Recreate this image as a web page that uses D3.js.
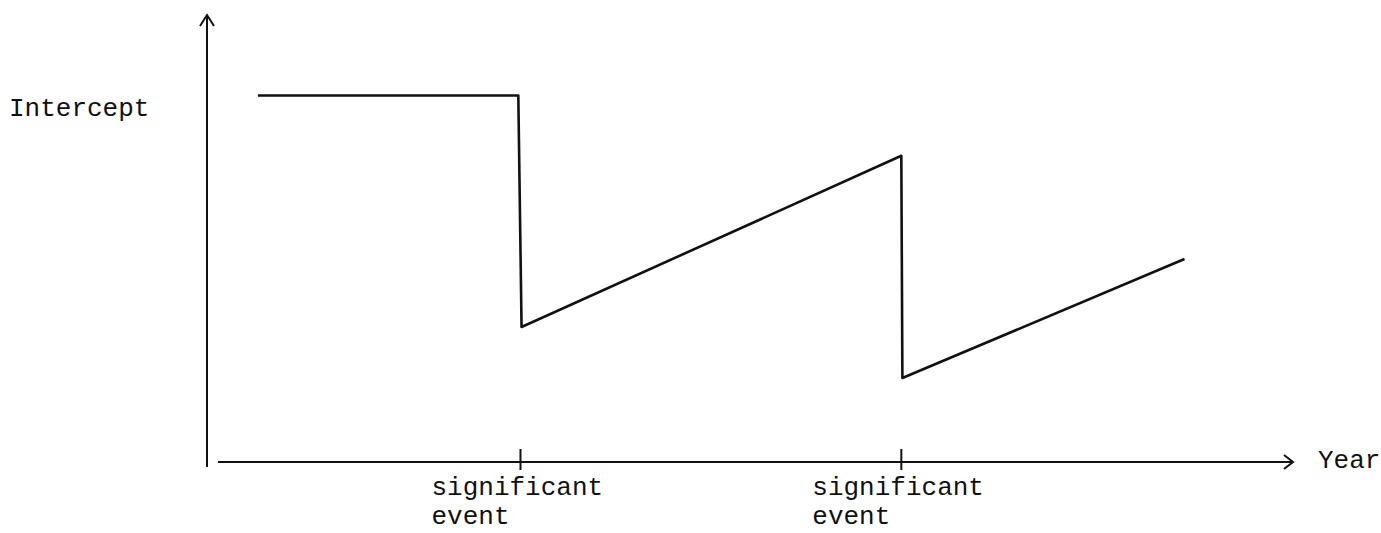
<!DOCTYPE html>
<html>
<head>
<meta charset="utf-8">
<script src="https://cdn.jsdelivr.net/npm/d3@7"></script>
<style>
  html, body { margin: 0; padding: 0; background: #fff; }
  svg { display: block; }
  text { font-family: "Liberation Mono", "Courier New", monospace; fill: #111; }
</style>
</head>
<body>
<svg id="chart" width="1381" height="533"></svg>
<script>
// Intercept over time, with drops at two significant events
const years = [4.6, 28.6, 28.9, 63.9, 64.0, 90.0];
const intercepts = [82.0, 82.0, 30.2, 68.5, 18.8, 45.4];
const eventYears = [28.8, 63.9];
const eventLabels = [['significant', 'event'], ['significant', 'event']];

const svg = d3.select('#chart');

const x = d3.scaleLinear().domain([0, 100]).range([208, 1293]);
const y = d3.scaleLinear().domain([0, 100]).range([462, 15]);

const ink = '#111';

// y axis with arrow
svg.append('line')
    .attr('x1', x(0) - 1).attr('y1', 467)
    .attr('x2', x(0) - 1).attr('y2', y(100))
    .attr('stroke', ink).attr('stroke-width', 2);
svg.append('path')
    .attr('d', `M${x(0) - 8},${y(100) + 11} L${x(0) - 1},${y(100)} L${x(0) + 6},${y(100) + 11}`)
    .attr('fill', 'none').attr('stroke', ink).attr('stroke-width', 2);

// x axis with arrow
svg.append('line')
    .attr('x1', x(0) + 10).attr('y1', y(0))
    .attr('x2', x(100)).attr('y2', y(0))
    .attr('stroke', ink).attr('stroke-width', 2);
svg.append('path')
    .attr('d', `M${x(100) - 9},${y(0) - 7} L${x(100)},${y(0)} L${x(100) - 9},${y(0) + 7}`)
    .attr('fill', 'none').attr('stroke', ink).attr('stroke-width', 2);

// event ticks
svg.append('g')
    .selectAll('line')
    .data(eventYears)
    .enter()
    .append('line')
    .attr('x1', d => x(d)).attr('x2', d => x(d))
    .attr('y1', y(0) - 13).attr('y2', y(0) + 8)
    .attr('stroke', ink).attr('stroke-width', 2);

// event labels, one text per line
const labelGroups = svg.append('g')
    .selectAll('g')
    .data(eventYears)
    .enter()
    .append('g');

labelGroups.each(function (d, i) {
    const g = d3.select(this);
    eventLabels[i].forEach((s, j) => {
        g.append('text')
            .attr('x', x(d) - 89)
            .attr('y', 495 + j * 29)
            .style('font-size', '26px')
            .text(s);
    });
});

// axis titles
svg.append('text')
    .attr('x', 9).attr('y', 116)
    .style('font-size', '26px')
    .text('Intercept');

svg.append('text')
    .attr('x', 1318).attr('y', 468)
    .style('font-size', '26px')
    .text('Year');

// the intercept line
const points = years.map((yr, i) => [yr, intercepts[i]]);
const line = d3.line()
    .x(d => x(d[0]))
    .y(d => y(d[1]));

svg.append('path')
    .datum(points)
    .attr('d', line)
    .attr('fill', 'none')
    .attr('stroke', ink)
    .attr('stroke-width', 2.6)
    .attr('stroke-linejoin', 'round');
</script>
</body>
</html>
